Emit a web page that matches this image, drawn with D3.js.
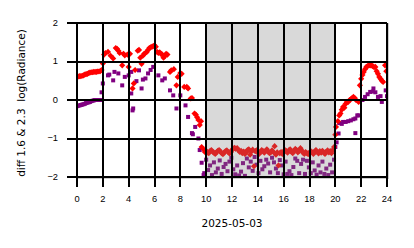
<!DOCTYPE html>
<html>
<head>
<meta charset="utf-8">
<script src="https://cdn.jsdelivr.net/npm/d3@7"></script>
<style>
  body { margin: 0; background: #fff; }
  svg { display: block; font-family: "DejaVu Sans", sans-serif; }
</style>
</head>
<body>
<svg id="chart" width="414" height="248"></svg>
<script>
// axis ticks and labels
const xTicks = [0, 2, 4, 6, 8, 10, 12, 14, 16, 18, 20, 22, 24];
const yTicks = [-2, -1, 0, 1, 2];
const xLabel = "2025-05-03";
const yLabel = "diff 1.6 & 2.3  log(Radiance)";
const nightBand = [10, 20];

// red diamonds: [hour, value]
const redSeries = [
  [0.0, 0.60], [0.1, 0.61], [0.2, 0.62], [0.3, 0.62], [0.4, 0.63], [0.5, 0.64], [0.6, 0.66], [0.7, 0.67],
  [0.8, 0.68], [0.9, 0.70], [1.0, 0.71], [1.1, 0.72], [1.2, 0.72], [1.3, 0.73], [1.4, 0.73], [1.5, 0.73],
  [1.6, 0.74], [1.7, 0.74], [1.8, 0.75], [1.9, 0.78], [2.0, 0.95], [2.1, 1.18], [2.2, 1.22], [2.4, 1.25],
  [2.6, 1.15], [2.8, 1.08], [3.0, 1.35], [3.1, 1.33], [3.2, 1.28], [3.3, 1.22], [3.5, 0.90], [3.6, 1.20],
  [3.7, 1.16], [3.9, 1.18], [4.0, 0.86], [4.1, 1.20], [4.3, 0.30], [4.4, 0.43], [4.5, 0.78], [4.7, 1.28],
  [4.8, 1.30], [4.9, 1.10], [5.0, 0.94], [5.1, 1.15], [5.2, 1.20], [5.3, 1.22], [5.4, 1.25], [5.5, 1.30],
  [5.6, 1.35], [5.7, 1.37], [5.8, 1.38], [5.9, 1.40], [6.0, 1.42], [6.1, 1.38], [6.2, 1.25], [6.3, 1.22],
  [6.4, 1.24], [6.5, 1.20], [6.6, 1.18], [6.7, 1.10], [6.8, 1.14], [6.9, 1.20], [7.0, 1.18], [7.2, 0.73],
  [7.3, 0.77], [7.5, 0.80], [7.7, 0.38], [7.8, 0.60], [8.0, 0.70], [8.1, 0.68], [8.3, 0.34], [8.5, 0.34],
  [8.6, 0.30], [8.8, 0.04], [8.9, 0.05], [9.1, -0.35], [9.2, -0.38], [9.3, -0.45], [9.4, -0.52], [9.5, -0.65],
  [9.6, -0.55], [9.65, -1.22], [9.8, -1.28], [9.9, -1.35], [10.0, -1.32], [10.1, -1.36], [10.2, -1.38],
  [10.3, -1.33], [10.4, -1.30], [10.5, -1.34], [10.6, -1.37], [10.7, -1.40], [10.8, -1.36], [10.9, -1.32],
  [11.0, -1.30], [11.1, -1.34], [11.2, -1.38], [11.3, -1.41], [11.4, -1.36], [11.5, -1.33], [11.6, -1.31],
  [11.7, -1.35], [11.8, -1.39], [11.9, -1.36], [12.0, -1.30], [12.1, -1.26], [12.2, -1.24], [12.3, -1.27],
  [12.4, -1.25], [12.5, -1.30], [12.6, -1.35], [12.7, -1.32], [12.8, -1.38], [12.9, -1.34], [13.0, -1.40],
  [13.1, -1.36], [13.2, -1.30], [13.3, -1.28], [13.4, -1.42], [13.5, -1.34], [13.6, -1.29], [13.7, -1.72],
  [13.8, -1.33], [13.9, -1.31], [14.0, -1.36], [14.1, -1.40], [14.2, -1.35], [14.3, -1.30], [14.4, -1.33],
  [14.5, -1.37], [14.6, -1.32], [14.7, -1.28], [14.8, -1.34], [14.9, -1.38], [15.0, -1.36], [15.1, -1.31],
  [15.2, -1.35], [15.3, -1.20], [15.4, -1.42], [15.5, -1.36], [15.6, -1.70], [15.7, -1.38], [15.8, -1.35],
  [15.9, -1.40], [16.0, -1.36], [16.1, -1.30], [16.2, -1.33], [16.3, -1.37], [16.4, -1.31], [16.5, -1.28],
  [16.6, -1.34], [16.7, -1.38], [16.8, -1.33], [16.9, -1.27], [17.0, -1.30], [17.1, -1.36], [17.2, -1.32],
  [17.3, -1.25], [17.4, -1.31], [17.5, -1.37], [17.6, -1.40], [17.7, -1.35], [17.8, -1.38], [17.9, -1.41],
  [18.0, -1.37], [18.1, -1.33], [18.2, -1.36], [18.3, -1.40], [18.4, -1.34], [18.5, -1.30], [18.6, -1.35],
  [18.7, -1.39], [18.8, -1.33], [18.9, -1.37], [19.0, -1.32], [19.1, -1.36], [19.2, -1.40], [19.3, -1.34],
  [19.4, -1.31], [19.5, -1.36], [19.6, -1.33], [19.7, -1.38], [19.8, -1.30], [19.9, -1.22], [20.0, -0.90],
  [20.05, -0.70], [20.2, -0.55], [20.3, -0.40], [20.4, -0.35], [20.5, -0.25], [20.6, -0.18], [20.7, -0.20],
  [20.8, -0.10], [20.9, -0.05], [21.0, -0.05], [21.1, 0.00], [21.2, 0.02], [21.3, 0.05], [21.4, 0.08],
  [21.5, 0.05], [21.6, 0.00], [21.8, -0.05], [21.9, 0.38], [22.0, 0.55], [22.1, 0.65], [22.2, 0.73],
  [22.3, 0.80], [22.4, 0.86], [22.5, 0.88], [22.6, 0.90], [22.7, 0.90], [22.8, 0.90], [22.9, 0.88],
  [23.0, 0.85], [23.1, 0.86], [23.2, 0.75], [23.3, 0.68], [23.4, 0.60], [23.5, 0.55], [23.6, 0.50],
  [23.7, 0.47], [23.85, 0.90], [23.95, 0.75]
];

// purple squares: [hour, value]
const purpleSeries = [
  [0.0, -0.16], [0.1, -0.15], [0.2, -0.14], [0.3, -0.13], [0.4, -0.12], [0.5, -0.11], [0.6, -0.10],
  [0.7, -0.08], [0.8, -0.07], [0.9, -0.06], [1.0, -0.05], [1.1, -0.03], [1.2, -0.02], [1.3, -0.01],
  [1.4, 0.00], [1.5, 0.00], [1.6, 0.00], [1.7, 0.00], [1.8, 0.00], [1.9, 0.20], [2.0, 0.43], [2.4, 0.64],
  [2.5, 0.66], [2.8, 0.51], [2.9, 0.73], [3.2, 0.69], [3.5, 0.38], [3.7, 0.60], [4.0, 0.64], [4.2, 0.73],
  [4.2, 0.17], [4.3, -0.27], [4.35, -0.22], [4.6, 0.49], [4.8, 0.77], [5.0, 0.30], [5.1, 0.53], [5.3, 0.56],
  [5.5, 0.69], [5.7, 0.78], [5.9, 0.86], [6.3, 0.64], [6.6, 0.51], [6.8, 0.56], [7.2, 0.25], [7.45, 0.12],
  [7.7, -0.22], [8.0, 0.12], [8.4, -0.14], [8.6, -0.44], [8.9, -0.86], [8.97, -0.89], [9.15, -0.70],
  [9.4, -1.00], [9.5, -1.30], [9.65, -1.63], [9.8, -1.95], [9.85, -1.90], [10.0, -1.55], [10.15, -1.82],
  [10.3, -1.70], [10.45, -1.95], [10.6, -1.62], [10.75, -1.88], [10.9, -1.78], [11.05, -1.57], [11.2, -1.92],
  [11.35, -1.74], [11.5, -1.66], [11.65, -1.85], [11.8, -1.60], [11.95, -1.50], [12.1, -1.80], [12.25, -1.93],
  [12.4, -1.70], [12.55, -1.96], [12.7, -1.86], [12.85, -1.64], [13.0, -1.97], [13.15, -1.52], [13.3, -1.75],
  [13.45, -1.60], [13.6, -1.84], [13.75, -1.48], [13.9, -1.68], [14.05, -1.90], [14.2, -1.58], [14.35, -1.80],
  [14.5, -1.72], [14.65, -1.55], [14.8, -1.65], [14.95, -1.88], [15.1, -1.50], [15.25, -1.62], [15.4, -1.78],
  [15.55, -1.90], [15.7, -1.56], [15.85, -1.70], [16.0, -1.93], [16.15, -1.60], [16.3, -1.92], [16.45, -1.85],
  [16.6, -1.95], [16.75, -1.74], [16.9, -1.52], [17.05, -1.58], [17.2, -1.90], [17.35, -1.66], [17.5, -1.55],
  [17.65, -1.92], [17.8, -1.58], [17.95, -1.75], [18.1, -1.90], [18.25, -1.62], [18.4, -1.83], [18.55, -1.94],
  [18.7, -1.70], [18.85, -1.88], [19.0, -1.60], [19.15, -1.92], [19.3, -1.78], [19.45, -1.95], [19.6, -1.68],
  [19.75, -1.88], [19.9, -1.55], [20.0, -1.22], [20.1, -1.10], [20.25, -0.87], [20.3, -0.60], [20.5, -0.62],
  [20.6, -0.57], [20.8, -0.57], [21.0, -0.55], [21.2, -0.53], [21.4, -0.50], [21.55, -0.48], [21.55, -0.86],
  [21.7, -0.40], [21.8, -0.40], [22.1, 0.00], [22.3, 0.08], [22.5, 0.15], [22.7, 0.21], [22.9, 0.22],
  [22.95, 0.30], [23.1, 0.20], [23.3, 0.08], [23.5, 0.10], [23.6, -0.05], [23.9, 0.25], [24.0, 0.10]
];

const margin = { top: 23, right: 27, bottom: 71, left: 77 };
const width = 414 - margin.left - margin.right;
const height = 248 - margin.top - margin.bottom;

const svg = d3.select("#chart");
const g = svg.append("g").attr("transform", `translate(${margin.left},${margin.top})`);

const x = d3.scaleLinear().domain([0, 24]).range([0, width]);
const y = d3.scaleLinear().domain([-2, 2]).range([height, 0]);

// clip so points stay inside the plot
g.append("clipPath").attr("id", "plotClip")
  .append("rect").attr("width", width).attr("height", height);

// light grey frame
g.append("rect")
  .attr("x", 0.5).attr("y", 0.5)
  .attr("width", width + 1).attr("height", height + 1)
  .attr("fill", "none").attr("stroke", "#cccccc").attr("stroke-width", 1);

const pts = g.append("g").attr("clip-path", "url(#plotClip)");

// purple squares
const sq = 4;
pts.selectAll(".purple")
  .data(purpleSeries)
  .enter()
  .append("rect")
  .attr("class", "purple")
  .attr("x", (d) => x(d[0]) - sq / 2)
  .attr("y", (d) => y(d[1]) - sq / 2)
  .attr("width", sq).attr("height", sq)
  .attr("fill", "#800080");

// red diamonds
const diamond = d3.symbol().type(d3.symbolSquare).size(19);
pts.selectAll(".red")
  .data(redSeries)
  .enter()
  .append("path")
  .attr("class", "red")
  .attr("d", diamond)
  .attr("transform", (d) => `translate(${x(d[0])},${y(d[1])}) rotate(45)`)
  .attr("fill", "#ff0000");

// shaded night band on top of the points
g.append("rect")
  .attr("x", x(nightBand[0])).attr("y", 0)
  .attr("width", x(nightBand[1]) - x(nightBand[0])).attr("height", height)
  .attr("fill", "#808080").attr("fill-opacity", 0.3);

// axes with black grid
const xAxis = d3.axisBottom(x).tickValues(xTicks).tickSize(10).tickPadding(8).offset(0)
  .tickFormat(d3.format("d"));
const yAxis = d3.axisLeft(y).tickValues(yTicks).tickSize(10).tickPadding(9).offset(0)
  .tickFormat((d) => (d < 0 ? "\u2212" + Math.abs(d) : d));

const gx = g.append("g").attr("transform", `translate(0,${height})`).call(xAxis);
const gy = g.append("g").call(yAxis);
[gx, gy].forEach((ax) => {
  ax.select(".domain").remove();
  ax.selectAll("line")
    .attr("stroke", "#000")
    .attr("stroke-width", 2)
    .attr("shape-rendering", "crispEdges");
  ax.selectAll("text").attr("fill", "#000").style("font-size", "9.3px");
});
// extend tick lines across the plot to form the grid
gx.selectAll(".tick line").attr("y1", -height).attr("y2", 10);
gy.selectAll(".tick line").attr("x1", width).attr("x2", -10);

// axis labels
g.append("text")
  .attr("x", width / 2).attr("y", height + 50)
  .attr("text-anchor", "middle")
  .style("font-size", "10.5px")
  .text(xLabel);

g.append("text")
  .attr("transform", `translate(${-52},${height / 2 + 3}) rotate(-90)`)
  .attr("text-anchor", "middle")
  .style("font-size", "10.5px")
  .style("white-space", "pre")
  .text(yLabel);
</script>
</body>
</html>
